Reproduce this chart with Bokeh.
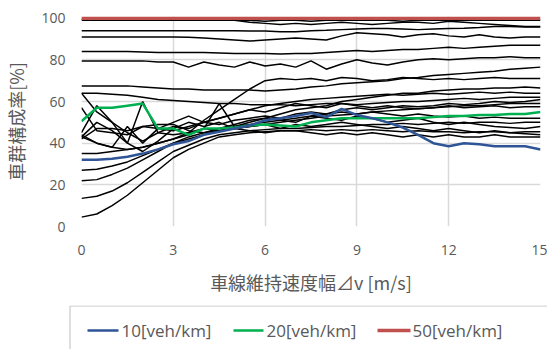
from bokeh.plotting import figure
from bokeh.layouts import column
from bokeh.models import Range1d, FixedTicker
from bokeh.core.properties import value
from bokeh.embed import file_html
from bokeh.resources import INLINE

# x: lane-keeping speed width (m/s)
x_vals = [0, 0.5, 1, 1.5, 2, 2.5, 3, 3.5, 4, 4.5, 5, 5.5, 6, 6.5, 7, 7.5,
          8, 8.5, 9, 9.5, 10, 10.5, 11, 11.5, 12, 12.5, 13, 13.5, 14, 14.5, 15]

x_ticks = [0, 3, 6, 9, 12, 15]
y_ticks = [0, 20, 40, 60, 80, 100]

series_labels = ["10[veh/km]", "20[veh/km]", "50[veh/km]"]
series_colors = ["#2f5597", "#00b050", "#c0504d"]

blue_10 = [32, 32, 32.5, 33.5, 35, 37, 39.5, 41, 44, 45.5,
           47, 48.5, 51, 52, 53, 54.5, 52.5, 56.5, 53.5, 52,
           50, 47.5, 44, 40, 38.5, 40, 39.5, 38.5, 38.5, 38.5, 37]
green_20 = [50.5, 57, 57, 58, 59, 47, 47, 44, 47, 47,
            47.5, 48.5, 49, 48.5, 48, 50, 51, 52, 52, 52,
            52, 52, 52, 52.5, 53, 53, 53.5, 53.5, 54, 54, 55]
red_50 = [100, 100, 100, 100, 100, 100, 100, 100, 100, 100,
          100, 100, 100, 100, 100, 100, 100, 100, 100, 100,
          100, 100, 100, 100, 100, 100, 100, 100, 100, 100, 100]

# other densities (black lines)
black_01 = [99, 99, 99, 99, 99, 99, 99, 99, 99, 99,
            99, 99, 98.5, 99, 99, 98.5, 99, 99, 99, 99,
            99, 98.5, 99, 99, 99, 99, 99, 99, 99, 99, 99]
black_02 = [99.5, 99.5, 99.5, 99.5, 99.5, 99.5, 99.5, 99.5, 99.5, 99.5,
            99, 98, 97.5, 97, 97.5, 97, 97.5, 98, 97.5, 97,
            97.5, 98, 98, 97.5, 98.5, 98, 97.5, 97, 96.5, 96, 96]
black_03 = [94, 94, 94, 94, 94, 94, 94, 94, 94, 94,
            94, 93.8, 93.8, 93.5, 93.5, 94, 94.2, 94.5, 94.8, 95,
            95, 94.8, 94.5, 94.8, 95, 95.2, 95.5, 96, 96, 95.8, 95.8]
black_04 = [91, 91, 91, 91, 91, 91, 91, 90.8, 90.5, 90,
            89.5, 89, 89.5, 90, 90.5, 90, 89.5, 91.5, 93, 92.5,
            92, 91, 92, 92.5, 91.5, 91, 92, 91, 90.5, 91, 91]
black_05 = [84, 84, 84, 84, 83.8, 83.5, 83.5, 83.5, 83.5, 83.3,
            83, 83, 83, 82.8, 83, 83, 83.5, 84, 84.5, 84,
            84.5, 85, 85, 85.5, 86, 85.5, 86, 86.5, 87, 87, 87]
black_06 = [79.5, 79.5, 79.5, 79.5, 79.5, 79, 79, 76.5, 79, 77.5,
            76.5, 79, 77, 78, 76.5, 79.5, 75.5, 78, 80, 78.5,
            77.5, 79, 80, 80.5, 80, 80.5, 81, 81, 81.5, 81, 81]
black_07 = [67.5, 67.5, 67.5, 67.5, 67, 66.5, 66, 66, 65.5, 65.5,
            65.5, 65.5, 65, 65.5, 66, 67, 67.5, 68.5, 69, 69.5,
            70, 71, 71.5, 72.5, 73, 73.5, 74, 74.5, 75.5, 76, 76.5]
black_08 = [64, 64, 63.5, 63, 62, 61, 60.5, 60, 59.5, 59,
            59, 58.5, 58.5, 58.5, 58, 58.5, 59, 59, 58.5, 59,
            59.5, 60, 60, 60.5, 61, 61.5, 61, 61.5, 62, 62, 62]
black_09 = [64, 55, 50, 45, 41, 45, 48, 47, 50, 52,
            54, 56, 58, 59, 60, 61, 61.5, 62, 62.5, 63,
            63.5, 63, 63.5, 64, 63.5, 64, 64.5, 64, 64.5, 64, 64]
black_10 = [57, 46, 45, 44, 48, 47, 46, 48, 50, 49,
            51, 52, 53, 52, 54, 55, 54, 56, 57, 56,
            57, 58, 57.5, 58, 59, 58.5, 59, 60, 59.5, 60, 61]
black_11 = [45, 58, 50, 40, 36, 41, 47, 50, 48, 50,
            47, 48, 49, 47, 49, 48, 49, 50, 49, 48,
            47, 48, 47, 46, 47, 46, 45, 46, 45, 44.5, 44]
black_12 = [43, 50, 46, 40, 60, 45, 44, 45, 47, 46,
            48, 50, 52, 51, 50, 53, 52, 51, 53, 52,
            50, 51, 52, 50, 49, 50, 49, 48, 47.5, 47, 48]
black_13 = [44, 40, 38, 48, 40, 47, 50, 53, 50, 52,
            54, 56, 55, 57, 59, 58, 57, 59, 58, 57,
            58, 57, 56.5, 57, 58, 57, 57.5, 58, 57, 57.5, 57.5]
black_14 = [42, 47, 47, 46, 48, 49, 49, 46, 45, 46,
            47, 46, 45, 46, 46, 45, 44, 45, 44, 45,
            44, 43, 44, 43, 44, 43, 43, 44, 43, 43, 43]
black_15 = [35, 35, 36, 37, 38, 40, 42, 44, 47, 59,
            48, 49, 50, 51, 52, 53, 54, 55, 54, 55,
            54, 53, 54, 53, 52.5, 53, 52, 52.5, 52, 52, 52]
black_16 = [27, 27.5, 29, 31, 34, 37, 40, 43, 45, 47,
            49, 51, 52, 54, 56, 57, 58, 60, 61, 62,
            63, 64, 64, 65, 65.5, 66, 66, 66.5, 66.5, 67, 66.5]
black_17 = [22, 22.5, 25, 28, 32, 36, 40, 42, 44, 46,
            47, 48, 49, 50, 51, 52, 53, 53.5, 54, 55,
            55.5, 56, 56.5, 57, 57.5, 58, 58, 58.5, 59, 59, 59]
black_18 = [13.5, 14.5, 17, 21, 26, 31, 36, 39, 42, 44,
            45, 46, 46.5, 47, 47, 47.5, 48, 48, 48.5, 49,
            49, 49.5, 49, 49.5, 50, 49.5, 50, 50, 49.5, 50, 50]
black_19 = [4.5, 6, 10, 15, 21, 27, 33, 37, 40, 43,
            44, 45, 45.5, 46, 46, 46.5, 46, 46.5, 46, 46.5,
            46, 45.5, 46, 45.5, 45.5, 45, 45.5, 45.5, 45, 45.5, 45.5]
black_20 = [43, 40, 38, 37, 38, 40, 42, 45, 51, 56,
            61, 66, 70, 71, 70.5, 71, 70, 71.5, 71, 70,
            70.5, 71.5, 71, 70.5, 71, 70.5, 71, 71.5, 71, 71, 71]

black_lines = [black_01, black_02, black_03, black_04, black_05, black_06, black_07,
               black_08, black_09, black_10, black_11, black_12, black_13, black_14,
               black_15, black_16, black_17, black_18, black_19, black_20]

GRAY = "#595959"
CJK = "Noto Sans CJK JP"

# ---------------- main chart ----------------
p = figure(width=547, height=305, output_backend="svg", toolbar_location=None,
           x_range=Range1d(0, 15), y_range=Range1d(0, 100.8),
           min_border_left=80, min_border_right=7, min_border_top=16,
           min_border_bottom=79)
p.outline_line_color = None
p.background_fill_color = "white"
p.border_fill_color = "white"

p.xaxis.ticker = FixedTicker(ticks=x_ticks)
p.yaxis.ticker = FixedTicker(ticks=y_ticks)
for ax in (p.xaxis[0], p.yaxis[0]):
    ax.axis_line_color = None
    ax.major_tick_line_color = None
    ax.minor_tick_line_color = None
    ax.major_tick_out = 0
    ax.major_tick_in = 0
    ax.major_label_text_color = GRAY
    ax.major_label_text_font = "Open Sans"
    ax.major_label_text_font_size = "14px"
    ax.axis_label_text_color = GRAY
    ax.axis_label_text_font = CJK
    ax.axis_label_text_font_size = "18px"
    ax.axis_label_text_font_style = "normal"

p.xaxis.axis_label = "車線維持速度幅⊿v [m/s]"
p.yaxis.axis_label = "車群構成率[%]"
p.xaxis.major_label_standoff = 18
p.xaxis.axis_label_standoff = 11
p.yaxis.major_label_standoff = 16
p.yaxis.axis_label_standoff = 9

p.xgrid.ticker = FixedTicker(ticks=x_ticks)
p.ygrid.ticker = FixedTicker(ticks=y_ticks)
p.xgrid.grid_line_color = "#d9d9d9"
p.ygrid.grid_line_color = "#d9d9d9"
p.xgrid.grid_line_width = 1.5
p.ygrid.grid_line_width = 1.5

for ys in black_lines:
    p.line(x_vals, ys, line_color="black", line_width=1.5)

p.line(x_vals, green_20, line_color=series_colors[1], line_width=2.5)
p.line(x_vals, blue_10, line_color=series_colors[0], line_width=2.5)
p.line(x_vals, red_50, line_color=series_colors[2], line_width=3.5)

# ---------------- legend strip (pixel coordinates) ----------------
lg = figure(width=547, height=44, output_backend="svg", toolbar_location=None,
            x_range=Range1d(0, 547), y_range=Range1d(0, 44),
            min_border_left=0, min_border_right=0, min_border_top=0,
            min_border_bottom=0)
lg.outline_line_color = None
lg.axis.visible = False
lg.grid.visible = False
lg.background_fill_color = "white"
lg.border_fill_color = "white"

for fig in (p, lg):
    if hasattr(fig, "frame_align"):
        fig.frame_align = False

lg.quad(left=[69.5], right=[600], bottom=[-20], top=[43.5],
        fill_color="white", line_color="#bfbfbf", line_width=1)

glyph_x0 = [87, 233, 377]
glyph_x1 = [118, 263, 410]
text_x = [121, 266, 412]
widths = [2.5, 2.5, 3.5]
for i in range(3):
    lg.line([glyph_x0[i], glyph_x1[i]], [19, 19], line_color=series_colors[i],
            line_width=widths[i])
lg.text(x=text_x, y=[19, 19, 19], text=series_labels,
        text_font=value("Open Sans"), text_font_size="17px",
        text_color=GRAY, text_align="left", text_baseline="middle")

layout = column(p, lg, spacing=0)

open("out.html", "w").write(file_html(layout, INLINE))
